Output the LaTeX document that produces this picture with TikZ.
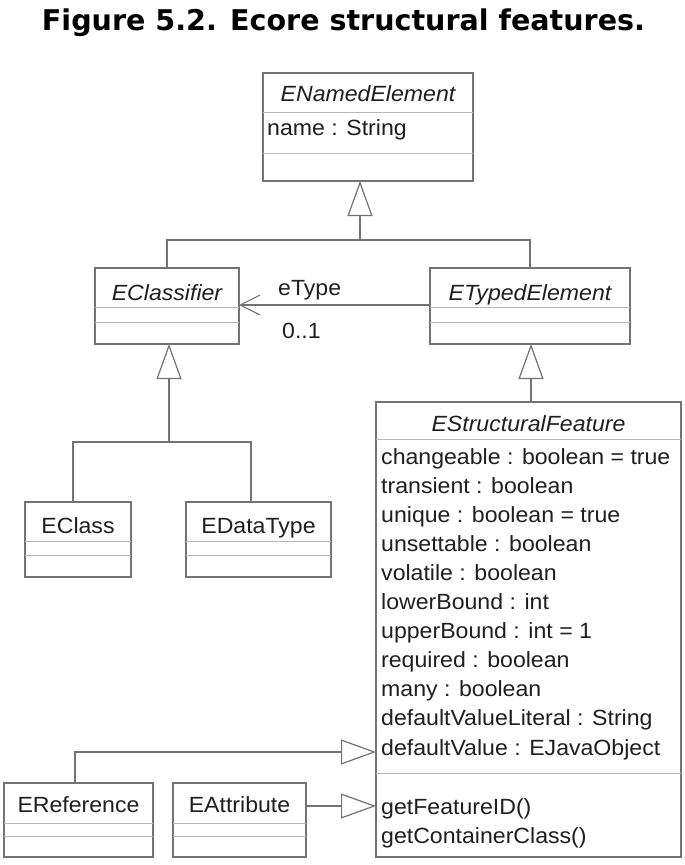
\documentclass[tikz,border=0pt]{standalone}
\usepackage{fontspec}
\usepackage{graphicx}
\setmainfont{Liberation Sans}[FakeStretch=1.05]
\newfontfamily\titlefont{DejaVu Sans}
\usetikzlibrary{arrows.meta}
\definecolor{linec}{gray}{0.45}
\definecolor{sepc}{gray}{0.72}
\definecolor{textc}{gray}{0.12}
\begin{document}
\begin{tikzpicture}[x=1pt,y=-1pt,
  classbox/.style={draw=linec, line width=1.5pt, fill=white, inner sep=0pt, outer sep=0pt, anchor=north west},
  sepline/.style={draw=sepc, line width=1pt},
  txt/.style={font=\fontsize{22}{26}\selectfont, inner sep=0pt, text=textc},
  conn/.style={draw=linec, line width=1.3pt},
  gen/.style={conn, -{Triangle[open, length=35pt, width=25pt, fill=white, line width=1.2pt]}},
  assoc/.style={conn, -{Straight Barb[length=20pt, width=20pt, line width=1.1pt]}}
]
\useasboundingbox (0,0) rectangle (685,865);
\fill[white] (0,0) rectangle (685,865);

% title
\node[anchor=base, inner sep=0pt] (title) at (343.5,30)
  {\resizebox{603pt}{!}{\titlefont\bfseries Figure 5.2. Ecore structural features.}};

% boxes
\node[classbox, minimum width=210pt, minimum height=108pt] (ene) at (263,73) {};
\node[classbox, minimum width=144pt, minimum height=76pt] (ecl) at (95,268) {};
\node[classbox, minimum width=200pt, minimum height=76pt] (etp) at (430,268) {};
\node[classbox, minimum width=106pt, minimum height=75pt] (ecls) at (25,502) {};
\node[classbox, minimum width=145pt, minimum height=75pt] (edt) at (186,502) {};
\node[classbox, minimum width=305pt, minimum height=455pt] (esf) at (376,402) {};
\node[classbox, minimum width=149pt, minimum height=74pt] (eref) at (4,783) {};
\node[classbox, minimum width=133pt, minimum height=74pt] (eatt) at (173,783) {};

% separators
\draw[sepline] (ene.west |- 0,112) -- (ene.east |- 0,112);
\draw[sepline] (ene.west |- 0,153) -- (ene.east |- 0,153);
\draw[sepline] (ecl.west |- 0,307) -- (ecl.east |- 0,307);
\draw[sepline] (ecl.west |- 0,322) -- (ecl.east |- 0,322);
\draw[sepline] (etp.west |- 0,307) -- (etp.east |- 0,307);
\draw[sepline] (etp.west |- 0,322) -- (etp.east |- 0,322);
\draw[sepline] (ecls.west |- 0,541) -- (ecls.east |- 0,541);
\draw[sepline] (ecls.west |- 0,555) -- (ecls.east |- 0,555);
\draw[sepline] (edt.west |- 0,541) -- (edt.east |- 0,541);
\draw[sepline] (edt.west |- 0,555) -- (edt.east |- 0,555);
\draw[sepline] (esf.west |- 0,439) -- (esf.east |- 0,439);
\draw[sepline] (esf.west |- 0,773) -- (esf.east |- 0,773);
\draw[sepline] (eref.west |- 0,823) -- (eref.east |- 0,823);
\draw[sepline] (eref.west |- 0,836) -- (eref.east |- 0,836);
\draw[sepline] (eatt.west |- 0,823) -- (eatt.east |- 0,823);
\draw[sepline] (eatt.west |- 0,836) -- (eatt.east |- 0,836);

% box texts
\node[txt, anchor=base] (eneT) at (ene.center |- 0,101) {\itshape ENamedElement};
\node[txt, anchor=base west] (eneA) at (267,135) {name : String};
\node[txt, anchor=base] (eclT) at (ecl.center |- 0,300) {\itshape EClassifier};
\node[txt, anchor=base] (etpT) at (etp.center |- 0,300) {\itshape ETypedElement};
\node[txt, anchor=base] (eclsT) at (ecls.center |- 0,533) {EClass};
\node[txt, anchor=base] (edtT) at (edt.center |- 0,533) {EDataType};
\node[txt, anchor=base] (esfT) at (esf.center |- 0,431) {\itshape EStructuralFeature};
\node[txt, anchor=base] (erefT) at (eref.center |- 0,812) {EReference};
\node[txt, anchor=base] (eattT) at (eatt.center |- 0,812) {EAttribute};

\node[txt, anchor=base west] (a1) at (381,464.0) {changeable : boolean = true};
\node[txt, anchor=base west] (a2) at (381,493.1) {transient : boolean};
\node[txt, anchor=base west] (a3) at (381,522.2) {unique : boolean = true};
\node[txt, anchor=base west] (a4) at (381,551.3) {unsettable : boolean};
\node[txt, anchor=base west] (a5) at (381,580.4) {volatile : boolean};
\node[txt, anchor=base west] (a6) at (381,609.5) {lowerBound : int};
\node[txt, anchor=base west] (a7) at (381,638.6) {upperBound : int = 1};
\node[txt, anchor=base west] (a8) at (381,667.7) {required : boolean};
\node[txt, anchor=base west] (a9) at (381,696.8) {many : boolean};
\node[txt, anchor=base west] (a10) at (381,725.9) {defaultValueLiteral : String};
\node[txt, anchor=base west] (a11) at (381,755.0) {defaultValue : EJavaObject};
\node[txt, anchor=base west] (o1) at (381,814) {getFeatureID()};
\node[txt, anchor=base west] (o2) at (381,843) {getContainerClass()};

% connectors
\coordinate (j1) at (360,240);
\draw[conn] (ecl.north) |- (j1) -| (etp.north);
\draw[gen] (j1) -- (ene.south -| j1);

\draw[assoc] (etp.west |- 0,305) -- (ecl.east |- 0,305);
\node[txt, anchor=base west] (etype) at (278,295) {eType};
\node[txt, anchor=base west] (mult) at (282,338) {0..1};

\coordinate (j2) at (169,442);
\draw[conn] (ecls.north -| 73,0) |- (j2) -| (edt.north -| 251,0);
\draw[gen] (j2) -- (ecl.south -| j2);

\draw[gen] (esf.north -| 531,0) -- (etp.south -| 531,0);

\draw[gen] (eref.north -| 75,0) |- (esf.west |- 0,752);
\draw[gen] (eatt.east |- 0,806) -- (esf.west |- 0,806);
\end{tikzpicture}
\end{document}
